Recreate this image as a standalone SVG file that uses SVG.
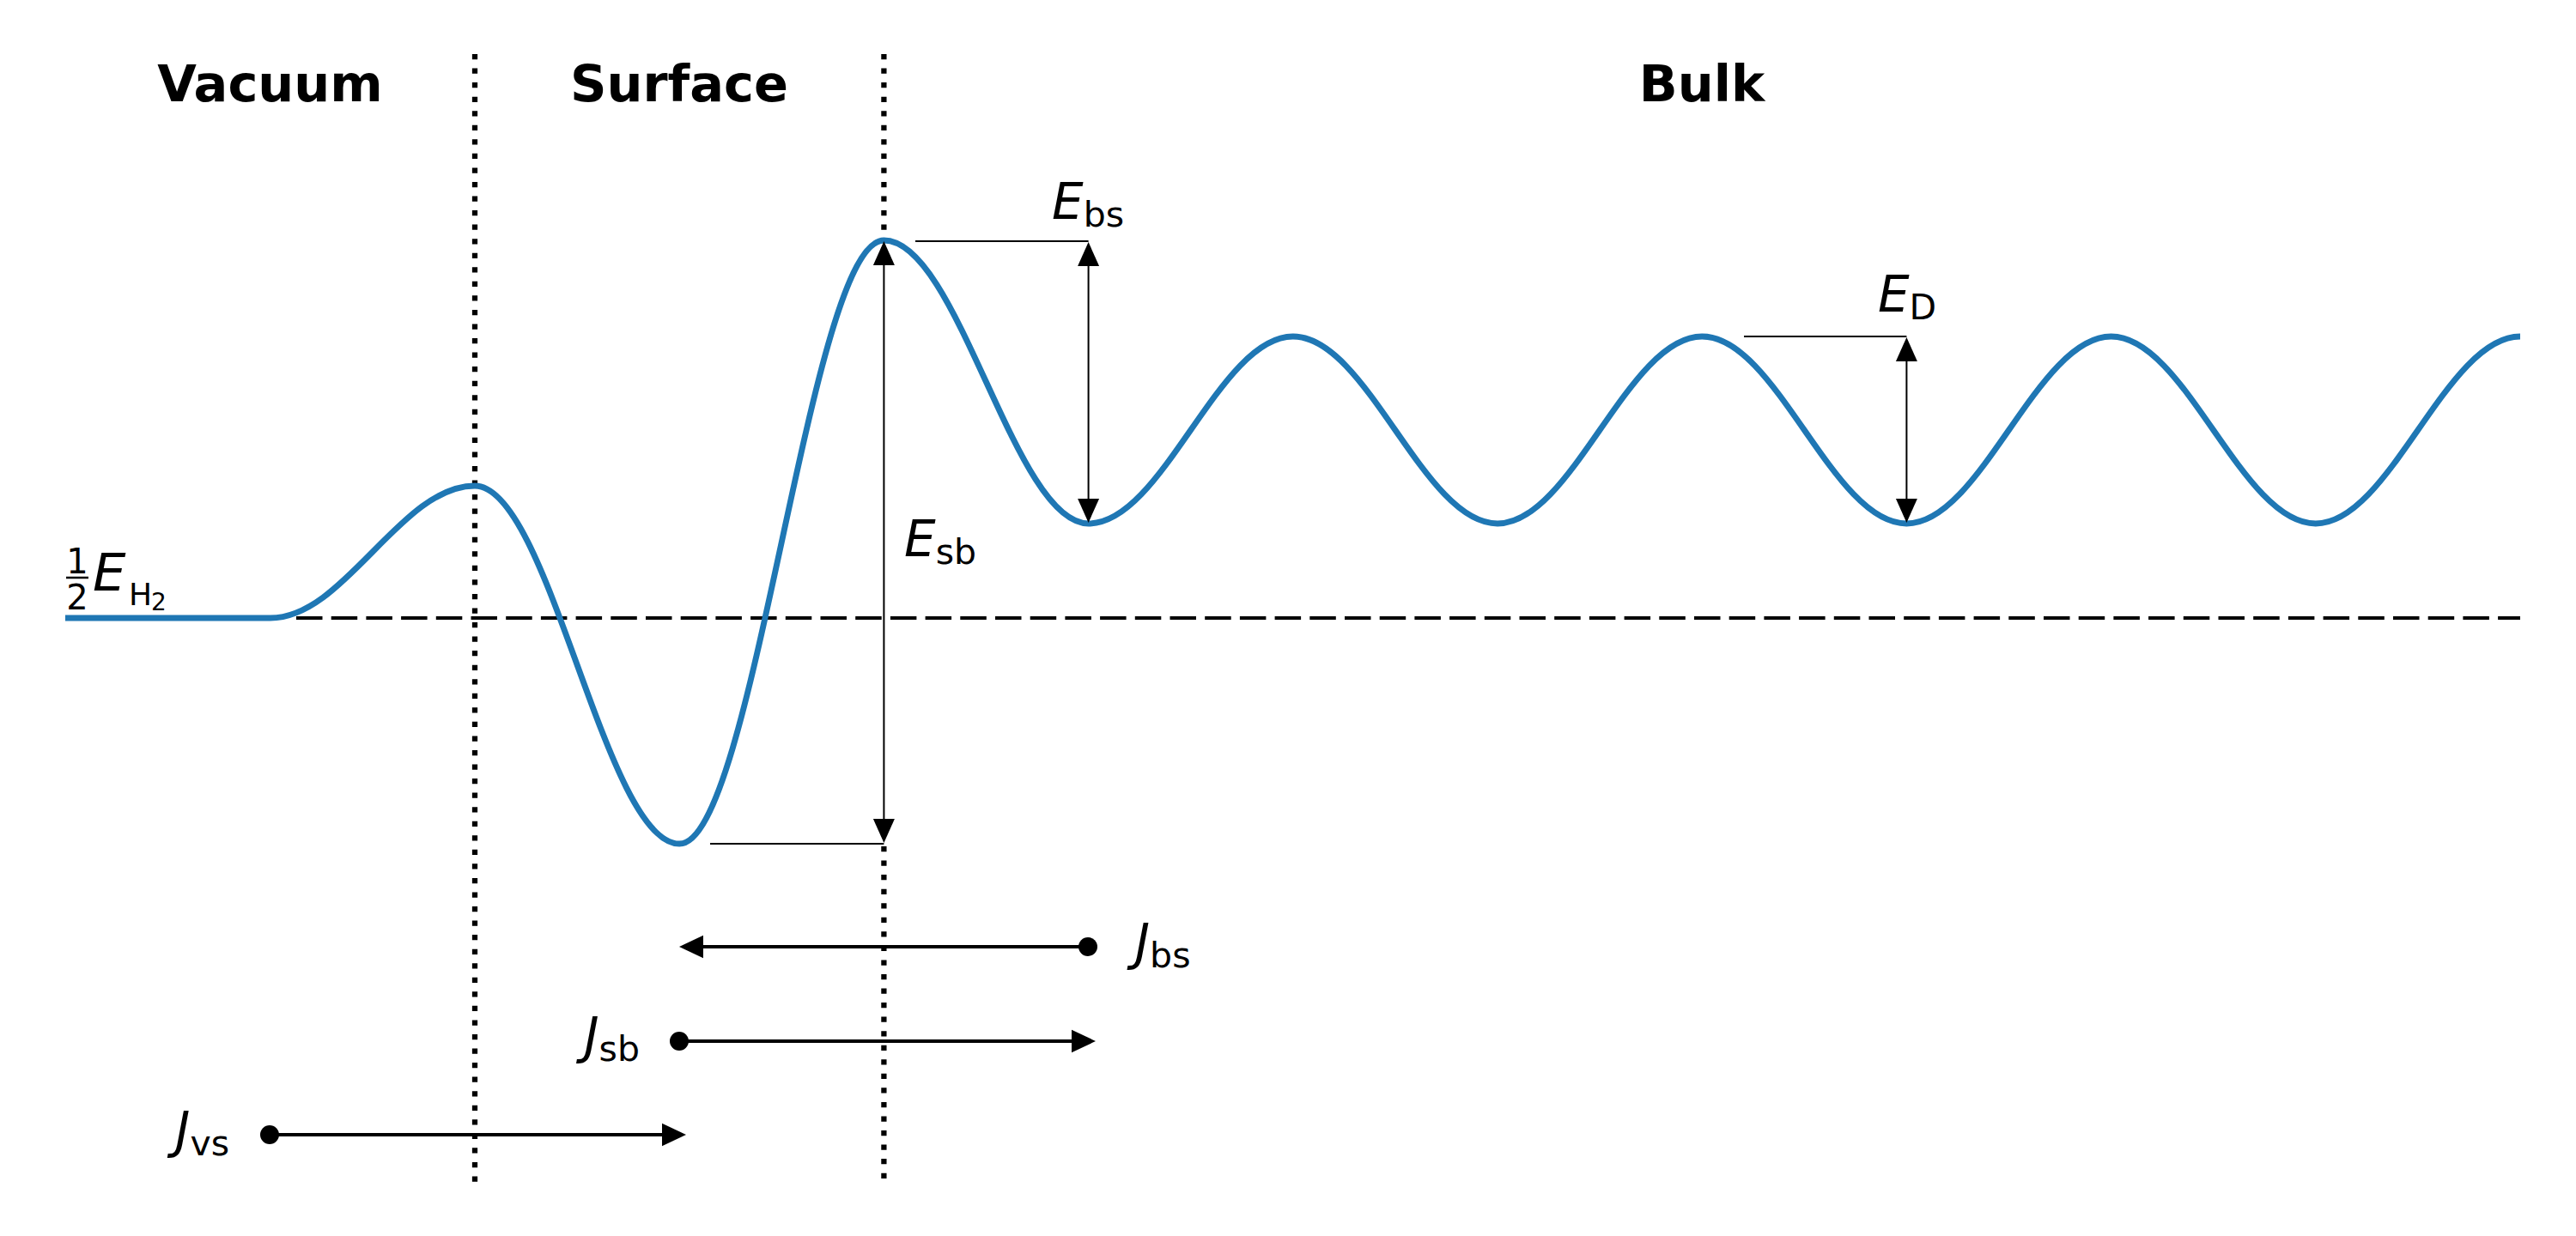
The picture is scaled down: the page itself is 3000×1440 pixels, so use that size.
<svg xmlns="http://www.w3.org/2000/svg" width="3000" height="1440" viewBox="0 0 3000 1440">
<style>
.title{font-family:"DejaVu Sans","Liberation Sans",sans-serif;font-weight:bold;font-size:59px;fill:#000;text-anchor:middle}
.m{font-family:"DejaVu Sans","Liberation Sans",sans-serif;fill:#000}
.it{font-style:italic;font-size:58px}
.sub{font-size:41px}
.curve{fill:none;stroke:#1f77b4;stroke-width:6.9;stroke-linejoin:round}
.dotv{stroke:#000;stroke-width:6.25;stroke-dasharray:6.25 10.3;fill:none}
.dash{stroke:#000;stroke-width:4;stroke-dasharray:30.5 10.2;fill:none}
.ref{stroke:#000;stroke-width:2;fill:none}
.thin{stroke:#000;stroke-width:2;fill:none;marker-start:url(#ah);marker-end:url(#ah)}
.thick{stroke:#000;stroke-width:4;fill:none;marker-end:url(#ahk)}
</style>
<defs>
<marker id="ah" viewBox="0 -13 28 26" refX="1" refY="0" markerWidth="28" markerHeight="26" markerUnits="userSpaceOnUse" orient="auto-start-reverse"><path d="M0,-12.5 L28,0 L0,12.5 z" fill="#000"/></marker>
<marker id="ahk" viewBox="0 -14 28 28" refX="1" refY="0" markerWidth="28" markerHeight="28" markerUnits="userSpaceOnUse" orient="auto"><path d="M0,-13.3 L28,0 L0,13.3 z" fill="#000"/></marker>
</defs>
<rect width="3000" height="1440" fill="#fff"/>

<g id="region-labels">
<text class="title" x="314.5" y="118">Vacuum</text>
<text class="title" x="791" y="118">Surface</text>
<text class="title" x="1982" y="118">Bulk</text>
</g>

<g id="boundaries">
<line class="dotv" x1="553" y1="63" x2="553" y2="1377"/>
<line class="dotv" x1="1029.4" y1="63" x2="1029.4" y2="280"/>
<line class="dotv" x1="1029.4" y1="986" x2="1029.4" y2="1377"/>
</g>

<g id="reference-level">
<line class="dash" x1="345" y1="720" x2="2935" y2="720"/>
</g>

<g id="potential-curve">
<path class="curve" d="M76 720 L314.8 720 C401.4 720 466.4 566 553 566 C639.6 566 704.6 983 791.2 983 C877.8 983 942.8 280 1029.4 280 C1116 280 1181 610 1267.6 610 C1354.2 610 1419.2 392 1505.8 392 C1592.4 392 1657.4 610 1744 610 C1830.6 610 1895.6 392 1982.2 392 C2068.8 392 2133.8 610 2220.4 610 C2307 610 2372 392 2458.6 392 C2545.2 392 2610.2 610 2696.8 610 C2783.4 610 2848.4 392 2935 392"/>
</g>

<g id="label-half-EH2">
<text class="m" x="90" y="668" font-size="40" text-anchor="middle">1</text>
<line x1="77" y1="673" x2="103" y2="673" stroke="#000" stroke-width="2.5"/>
<text class="m" x="90" y="710" font-size="40" text-anchor="middle">2</text>
<text class="m" x="108" y="688" font-size="61" font-style="italic">E</text>
<text class="m" x="150" y="705" font-size="36">H</text>
<text class="m" x="176" y="711" font-size="28">2</text>
</g>

<g id="connectors">
<line class="ref" x1="827" y1="983" x2="1029.4" y2="983"/>
<line class="ref" x1="1066" y1="281" x2="1267.6" y2="281"/>
<line class="ref" x1="2031" y1="392" x2="2220.4" y2="392"/>
<line class="thin" x1="1029.4" y1="308" x2="1029.4" y2="955"/>
<line class="thin" x1="1267.6" y1="309" x2="1267.6" y2="582"/>
<line class="thin" x1="2220.4" y1="420" x2="2220.4" y2="582"/>
<line class="thick" x1="1267" y1="1103" x2="818" y2="1103"/>
<line class="thick" x1="791" y1="1213" x2="1249" y2="1213"/>
<line class="thick" x1="314" y1="1322" x2="772" y2="1322"/>
<circle cx="1267" cy="1103" r="11" fill="#000"/>
<circle cx="791" cy="1213" r="11" fill="#000"/>
<circle cx="314" cy="1322" r="11" fill="#000"/>
</g>

<g id="label-Esb">
<text class="m" x="1053" y="648"><tspan class="it">E</tspan><tspan class="sub" dy="9">sb</tspan></text>
</g>
<g id="label-Ebs">
<text class="m" x="1267" y="255" text-anchor="middle"><tspan class="it">E</tspan><tspan class="sub" dy="9">bs</tspan></text>
</g>
<g id="label-ED">
<text class="m" x="2221" y="363" text-anchor="middle"><tspan class="it">E</tspan><tspan class="sub" dy="9">D</tspan></text>
</g>
<g id="label-Jbs">
<text class="m" x="1322" y="1118"><tspan class="it">J</tspan><tspan class="sub" dy="9">bs</tspan></text>
</g>
<g id="label-Jsb">
<text class="m" x="745" y="1227" text-anchor="end"><tspan class="it">J</tspan><tspan class="sub" dy="9">sb</tspan></text>
</g>
<g id="label-Jvs">
<text class="m" x="267" y="1337" text-anchor="end"><tspan class="it">J</tspan><tspan class="sub" dy="9">vs</tspan></text>
</g>
</svg>
